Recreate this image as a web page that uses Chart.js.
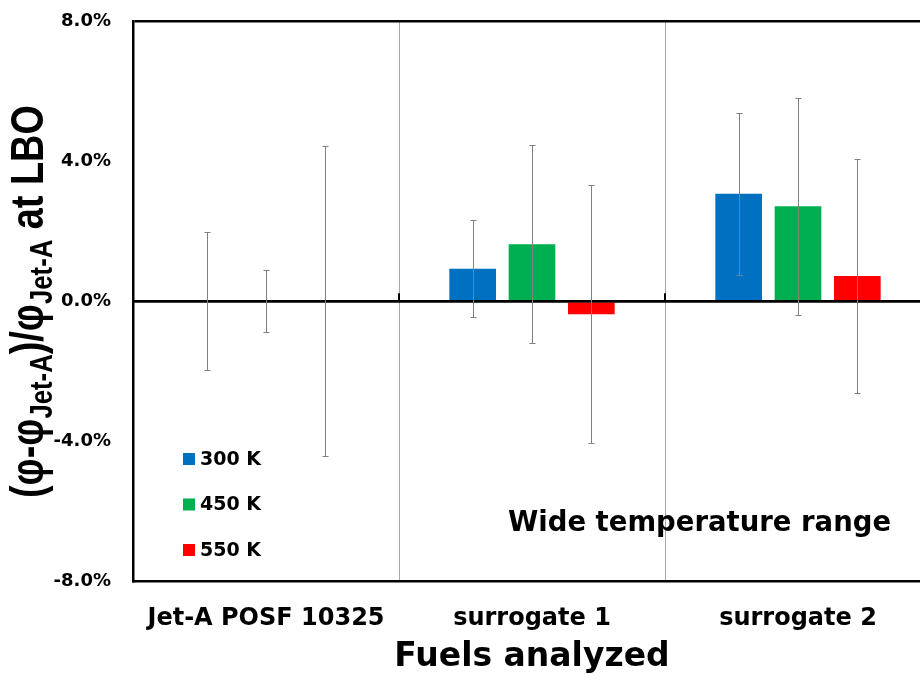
<!DOCTYPE html>
<html><head><meta charset="utf-8">
<script src="https://cdn.jsdelivr.net/npm/chart.js@4/dist/chart.umd.min.js"></script>
<style>
html,body{margin:0;padding:0;background:#fff;overflow:hidden;width:920px;height:682px}
#wrap{width:931px;height:682px}
</style></head>
<body><div id="wrap"><canvas id="c" width="931" height="682"></canvas></div>
<script>
// ---- data ----
const categories = ['Jet-A POSF 10325', 'surrogate 1', 'surrogate 2'];
const seriesLabels = ['300 K', '450 K', '550 K'];
const seriesColors = ['#0070C0', '#00B050', '#FF0000'];
const values300 = [0, 0.93, 3.07];
const values450 = [0, 1.63, 2.71];
const values550 = [0, -0.37, 0.72];
const errors300 = [1.97, 1.39, 2.31];
const errors450 = [0.88, 2.82, 3.09];
const errors550 = [4.42, 3.68, 3.33];
const yTicks = [-8, -4, 0, 4, 8];
const xTitle = 'Fuels analyzed';
const annotationText = 'Wide temperature range';
const yTitleParts = [['(\u03C6-\u03C6', false], ['Jet-A', true], [')/\u03C6', false], ['Jet-A', true], [' at LBO', false]];

const seriesValues = [values300, values450, values550];
const seriesErrors = [errors300, errors450, errors550];
const FONT = 'DejaVu Sans';

const overlay = {
  id: 'overlay',
  afterDatasetsDraw(chart) {
    const ctx = chart.ctx, ys = chart.scales.y, xs = chart.scales.x, a = chart.chartArea;
    const y0 = ys.getPixelForValue(0);
    ctx.save();
    // zero line on top of bars
    ctx.strokeStyle = '#000'; ctx.lineWidth = 2.5;
    ctx.beginPath(); ctx.moveTo(a.left, y0); ctx.lineTo(a.right, y0); ctx.stroke();
    // small tick stubs at category boundaries on the zero line
    ctx.lineWidth = 2;
    for (let k = 1; k < categories.length; k++) {
      const bx = (xs.getPixelForValue(k - 1) + xs.getPixelForValue(k)) / 2;
      ctx.beginPath(); ctx.moveTo(bx, y0); ctx.lineTo(bx, y0 - 8); ctx.stroke();
    }
    // error bars
    ctx.strokeStyle = '#808080'; ctx.lineWidth = 1;
    seriesErrors.forEach((errs, i) => {
      const meta = chart.getDatasetMeta(i);
      meta.data.forEach((bar, j) => {
        const v = seriesValues[i][j], e = errs[j];
        const cx = Math.round(bar.x) + 0.5;
        const yt = Math.round(ys.getPixelForValue(v + e)) + 0.5;
        const yb = Math.round(ys.getPixelForValue(v - e)) + 0.5;
        ctx.beginPath();
        ctx.moveTo(cx, yt); ctx.lineTo(cx, yb);
        ctx.moveTo(cx - 3, yt); ctx.lineTo(cx + 3, yt);
        ctx.moveTo(cx - 3, yb); ctx.lineTo(cx + 3, yb);
        ctx.stroke();
      });
    });
    ctx.restore();
  },
  afterDraw(chart) {
    const ctx = chart.ctx;
    ctx.save();
    // legend inside plot
    ctx.font = 'bold 19px "' + FONT + '"';
    ctx.textAlign = 'left'; ctx.textBaseline = 'middle';
    seriesLabels.forEach((lab, i) => {
      const cy = 459 + i * 45.5;
      ctx.fillStyle = seriesColors[i];
      ctx.fillRect(183, cy - 6, 12, 12);
      ctx.fillStyle = '#000';
      ctx.fillText(lab, 200, cy + 1);
    });
    // annotation
    ctx.font = 'bold 27.5px "' + FONT + '"';
    ctx.textAlign = 'center'; ctx.textBaseline = 'alphabetic';
    ctx.fillText(annotationText, 699.5, 531);
    // y title with subscripts, stretched like the reference
    const measure = (s) => {
      let w = 0;
      yTitleParts.forEach(([t, sub]) => {
        ctx.font = 'bold ' + (sub ? 0.68 * s : s) + 'px "Liberation Sans"';
        w += ctx.measureText(t).width;
      });
      return w;
    };
    const s = 35 * 393 / measure(35);
    ctx.translate(43, 498);
    ctx.scale(1.2, 1);
    ctx.rotate(-Math.PI / 2);
    ctx.textAlign = 'left'; ctx.textBaseline = 'alphabetic';
    let px = 0;
    yTitleParts.forEach(([t, sub]) => {
      ctx.font = 'bold ' + (sub ? 0.68 * s : s) + 'px "Liberation Sans"';
      ctx.fillText(t, px, sub ? 0.2 * s : 0);
      px += ctx.measureText(t).width;
    });
    ctx.restore();
  }
};

new Chart(document.getElementById('c'), {
  type: 'bar',
  data: {
    labels: categories,
    datasets: seriesLabels.map((lab, i) => ({
      label: lab,
      data: seriesValues[i],
      backgroundColor: seriesColors[i],
      borderWidth: 0,
      categoryPercentage: 0.669,
      barPercentage: 0.787
    }))
  },
  options: {
    responsive: false,
    animation: false,
    devicePixelRatio: 1,
    layout: { padding: { top: 21, right: 0, bottom: 0, left: 0 } },
    plugins: { legend: { display: false }, tooltip: { enabled: false } },
    scales: {
      x: {
        grid: { color: '#a6a6a6', lineWidth: 1, drawTicks: false, offset: true },
        border: { color: '#000', width: 2.5 },
        ticks: { font: { family: FONT, weight: 'bold', size: 24 }, color: '#000', padding: 23, maxRotation: 0, autoSkip: false },
        title: { display: true, text: xTitle, color: '#000', font: { family: FONT, weight: 'bold', size: 33 }, padding: { top: 0, bottom: 5 } },
        afterFit(sc) { sc.height = 100.5; }
      },
      y: {
        min: -8, max: 8,
        afterBuildTicks(sc) { sc.ticks = yTicks.map(v => ({ value: v })); },
        grid: {
          drawTicks: true,
          tickLength: 22,
          tickColor: 'rgba(0,0,0,0)',
          color: (c) => (c.tick && (c.tick.value === 0 || c.tick.value === 8)) ? '#000' : 'rgba(0,0,0,0)',
          lineWidth: 2.5
        },
        border: { color: '#000', width: 2.5 },
        ticks: {
          font: { family: FONT, weight: 'bold', size: 18 }, color: '#000', padding: 0,
          callback: (v) => Number(v).toFixed(1) + '%'
        },
        afterFit(sc) { sc.width = 133; }
      }
    }
  },
  plugins: [overlay]
});
</script>
</body></html>
